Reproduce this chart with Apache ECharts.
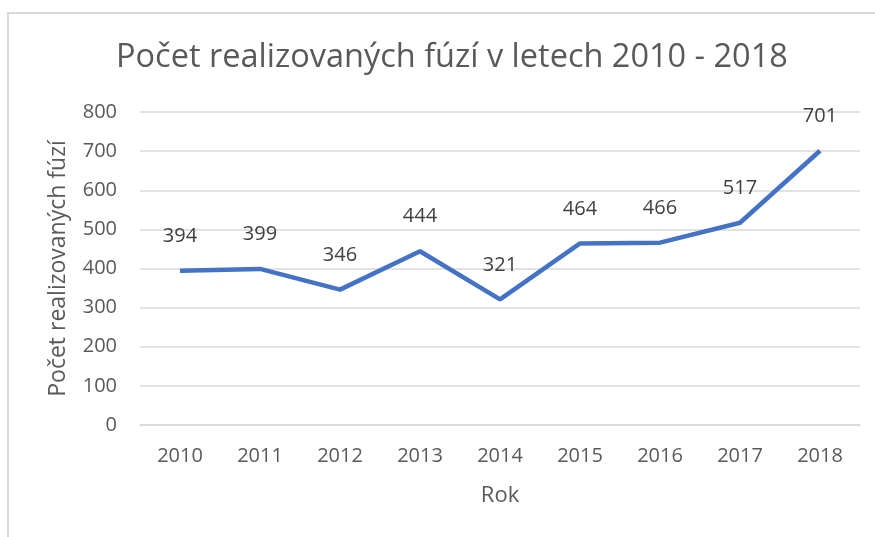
<!DOCTYPE html>
<html>
<head>
<meta charset="utf-8">
<script src="https://cdn.jsdelivr.net/npm/echarts@6/dist/echarts.min.js"></script>
<style>
html, body { margin: 0; padding: 0; background: #fff; }
#frame { position: absolute; left: 7px; top: 12px; width: 880px; height: 540px; border-top: 2px solid #d9d9d9; border-left: 2px solid #d9d9d9; }
#chart { position: absolute; left: 0; top: 0; width: 875px; height: 537px; }
</style>
</head>
<body>
<div id="frame"></div>
<div id="chart"></div>
<script>
var years = ['2010', '2011', '2012', '2013', '2014', '2015', '2016', '2017', '2018'];
var fuze = [394, 399, 346, 444, 321, 464, 466, 517, 701];

var font = 'Open Sans';
var chart = echarts.init(document.getElementById('chart'));

chart.setOption({
    backgroundColor: 'transparent',
    title: {
        text: 'Počet realizovaných fúzí v letech 2010 - 2018',
        left: 111,
        top: 36,
        textStyle: {
            color: '#595959',
            fontSize: 32.5,
            fontWeight: 'normal',
            fontFamily: font
        }
    },
    grid: {
        left: 140,
        right: 15,
        top: 112,
        bottom: 112
    },
    xAxis: {
        type: 'category',
        data: years,
        name: 'Rok',
        nameLocation: 'middle',
        nameGap: 60,
        nameTextStyle: { color: '#595959', fontSize: 22, fontFamily: font },
        axisLine: { lineStyle: { color: '#d9d9d9', width: 1.5 } },
        axisTick: { show: false },
        axisLabel: { color: '#595959', fontSize: 20, fontFamily: font, margin: 21 }
    },
    yAxis: {
        type: 'value',
        min: 0,
        max: 800,
        interval: 100,
        name: 'Počet realizovaných fúzí',
        nameLocation: 'middle',
        nameGap: 70,
        nameTextStyle: { color: '#595959', fontSize: 23, fontFamily: font },
        axisLine: { show: false },
        axisTick: { show: false },
        axisLabel: { color: '#595959', fontSize: 20, fontFamily: font, margin: 23 },
        splitLine: { lineStyle: { color: '#d9d9d9', width: 1.5 } }
    },
    series: [{
        type: 'line',
        data: fuze,
        symbol: 'circle',
        symbolSize: 1,
        showSymbol: true,
        itemStyle: { color: 'rgba(0,0,0,0)' },
        lineStyle: { color: '#4472c4', width: 4.5 },
        label: {
            show: true,
            position: 'top',
            distance: 24,
            color: '#404040',
            fontSize: 20,
            fontFamily: font
        },
        animation: false
    }]
});
</script>
</body>
</html>
